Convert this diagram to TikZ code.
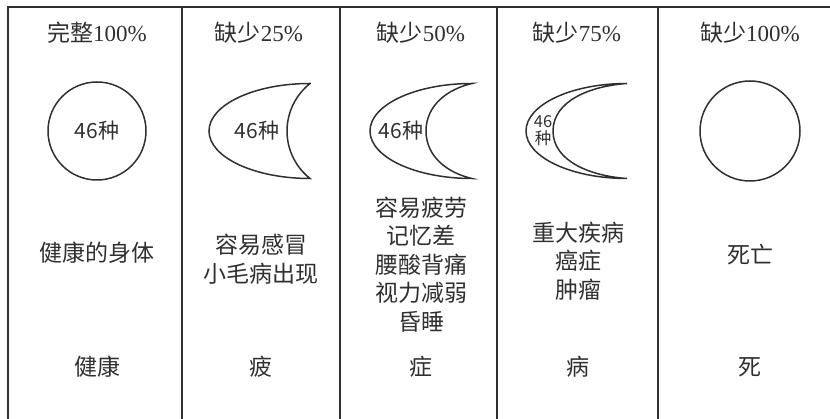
\documentclass[tikz,border=0pt]{standalone}
\usepackage{fontspec}
\setmainfont{Liberation Serif}
\newfontfamily\cjk{Noto Sans CJK SC}
\definecolor{ink}{HTML}{303030}
\tikzset{
  rule/.style={line width=1.2pt, draw=ink},
  shp/.style={line width=1.5pt, draw=ink},
  head/.style={font=\fontsize{23}{28}\selectfont, text=ink, inner sep=0pt},
  body/.style={font=\cjk\fontsize{23}{28.6}\selectfont, align=center, text=ink, inner sep=0pt},
  lab/.style={font=\cjk\fontsize{21}{24}\selectfont, text=ink, inner sep=0pt},
  labs/.style={font=\cjk\fontsize{16.5}{17}\selectfont, align=center, text=ink, inner sep=0pt},
}
\begin{document}
\begin{tikzpicture}[x=1pt,y=1pt]
\useasboundingbox (0,0) rectangle (830,419);
% grid
\coordinate (tl) at (8,412);
\coordinate (tr) at (830,412);
\draw[rule] (tr) -- (tl) -- (8,0);
\draw[rule] (182,412) -- (182,0);
\draw[rule] (340,412) -- (340,0);
\draw[rule] (497,412) -- (497,0);
\draw[rule] (658,412) -- (658,0);
% headings
\node[head] (h1) at (97,386) {{\cjk 完整}100\%};
\node[head] (h2) at (259,386) {{\cjk 缺少}25\%};
\node[head] (h3) at (421,386) {{\cjk 缺少}50\%};
\node[head] (h4) at (577,386) {{\cjk 缺少}75\%};
\node[head] (h5) at (750,386) {{\cjk 缺少}100\%};
% shapes
\draw[shp] (97,288) circle[radius=49];
\draw[shp] (310,335.5) arc[start angle=90,end angle=270,x radius=101,y radius=47.5]
  arc[start angle=231.7,end angle=128.3,radius=60.5] -- cycle;
\draw[shp] (472,335.5) arc[start angle=90,end angle=270,x radius=102,y radius=47.5]
  .. controls (448,246) and (426,262) .. (426,288)
  .. controls (426,314) and (448,330) .. cycle;
\draw[shp] (627,335.5) arc[start angle=90,end angle=270,x radius=101,y radius=47.5]
  .. controls (590,243) and (553,258) .. (553,288)
  .. controls (553,318) and (590,333) .. cycle;
\draw[shp] (750,288) circle[radius=50];
% labels in shapes
\node[lab] (s1) at (97,288) {46种};
\node[lab] (s2) at (257,288) {46种};
\node[lab] (s3) at (401,288) {46种};
\node[labs] (s4) at (543,288) {46\\种};
% body
\node[body] (b1) at (97,166) {健康的身体};
\node[body] (b2) at (261,160) {容易感冒\\小毛病出现};
\node[body] (b3) at (421,154.5) {容易疲劳\\记忆差\\腰酸背痛\\视力减弱\\昏睡};
\node[body] (b4) at (578,158) {重大疾病\\癌症\\肿瘤};
\node[body] (b5) at (750,164) {死亡};
% bottom
\node[body] (f1) at (97,52) {健康};
\node[body] (f2) at (261,52) {疲};
\node[body] (f3) at (421,52) {症};
\node[body] (f4) at (578,52) {病};
\node[body] (f5) at (750,52) {死};
\end{tikzpicture}
\end{document}
